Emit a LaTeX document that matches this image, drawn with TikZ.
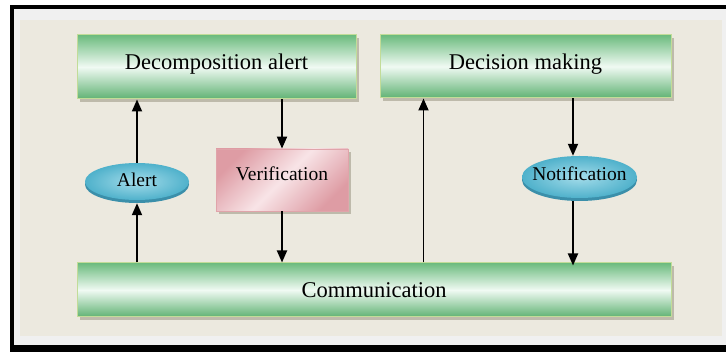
\documentclass[tikz,border=0pt]{standalone}
\usepackage{fontspec}
\setmainfont{Liberation Serif}
\usetikzlibrary{arrows.meta,shadows,calc,shapes.geometric}

\definecolor{framegrey}{HTML}{F0F0F0}
\definecolor{panel}{HTML}{ECE9DF}
\definecolor{gdark}{HTML}{6CBB7E}
\definecolor{gdarkb}{HTML}{60B273}
\definecolor{glight}{HTML}{F0FAF3}
\definecolor{gedge}{HTML}{C2DC98}
\definecolor{pdark}{HTML}{DE9CA4}
\definecolor{plight}{HTML}{F8E4E7}
\definecolor{pedge}{HTML}{E0A4AA}
\definecolor{bout}{HTML}{4FB1CB}
\definecolor{bin}{HTML}{A4DCEA}
\definecolor{brim}{HTML}{3B8FAA}
\definecolor{shade}{HTML}{B9B5A6}

\tikzset{
  boxshadow/.style={drop shadow={shadow xshift=3pt, shadow yshift=-3pt, fill=shade, opacity=0.9}},
  greenbox/.style={rectangle, draw=gedge, line width=1pt, top color=gdark, bottom color=gdarkb,
    middle color=glight, boxshadow},
  pinkbox/.style={rectangle, draw=pedge, line width=0.8pt, left color=pdark, right color=pdark,
    middle color=plight, shading angle=45, boxshadow},
  blueoval/.style={ellipse, draw=none, outer color=bout, inner color=bin,
    drop shadow={shadow xshift=0pt, shadow yshift=-3pt, fill=brim, opacity=1}},
  bigtext/.style={font=\fontsize{22.5}{24}\selectfont, text height=14.9pt, text depth=0pt, inner sep=0pt},
  smalltext/.style={font=\fontsize{19.5}{21}\selectfont, text height=12.9pt, text depth=0pt, inner sep=0pt},
  arr/.style={draw=black, line width=1.8pt, -{Triangle[length=12pt,width=10pt]}},
}

\begin{document}
\begin{tikzpicture}[x=1pt,y=-1pt]
\useasboundingbox (0,0) rectangle (726,352);
% page and frame
\fill[white] (0,0) rectangle (726,352);
\fill[black] (10,5.5) rectangle (726,352);
\fill[framegrey] (13.5,9) rectangle (732,345.5);
\fill[panel] (20,20) rectangle (722,336);

% main blocks
\node[greenbox, minimum width=279pt, minimum height=64pt,
  label={[bigtext, yshift=4.5pt]center:Decomposition alert}] (dec) at (216.5,67) {};
\node[greenbox, minimum width=291pt, minimum height=63pt,
  label={[bigtext, yshift=4.5pt]center:Decision making}] (decm) at (525.5,66.5) {};
\node[greenbox, minimum width=594pt, minimum height=54pt,
  label={[bigtext]center:Communication}] (comm) at (374,290) {};

% intermediate steps
\node[pinkbox, minimum width=132pt, minimum height=62pt,
  label={[smalltext, yshift=6pt]center:Verification}] (ver) at (282,180) {};
\node[blueoval, minimum width=104pt, minimum height=37pt, inner sep=0pt,
  label={[smalltext, yshift=1pt]center:Alert}] (alert) at (137,181.5) {};
\node[blueoval, minimum width=115pt, minimum height=42pt, inner sep=0pt,
  label={[smalltext, yshift=3pt]center:Notification}] (notif) at (579.5,177) {};

% connectors
\draw[arr] (alert.north) -- (alert.north |- dec.south);
\draw[arr] (alert.south |- comm.north) -- ([yshift=-3pt]alert.south);
\draw[arr] (ver.north |- dec.south) -- (ver.north);
\draw[arr] (ver.south) -- (ver.south |- comm.north);
\draw[arr] ([xshift=44pt]decm.south west |- comm.north) -- ([xshift=44pt]decm.south west);
\draw[arr] ([xshift=-6.5pt]notif.north |- decm.south) -- ([xshift=-6.5pt]notif.north);
\draw[arr] ([xshift=-6.5pt,yshift=-3pt]notif.south) -- ([xshift=-6.5pt,yshift=-3pt]notif.south |- comm.north);
\end{tikzpicture}
\end{document}
